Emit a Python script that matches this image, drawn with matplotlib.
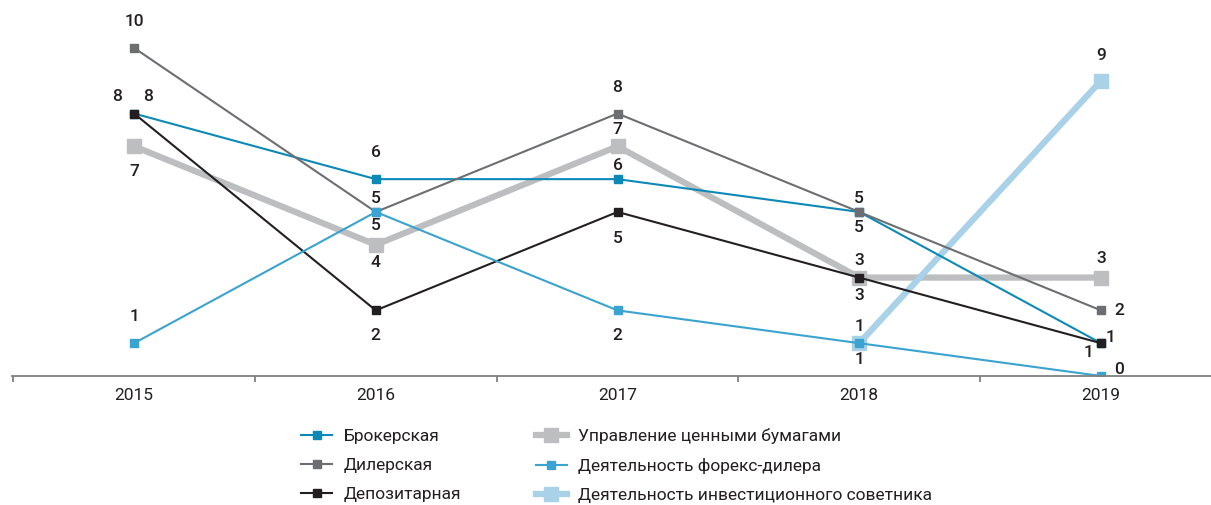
import numpy as np
import matplotlib.pyplot as plt

plt.rcParams['font.family'] = ['Roboto', 'DejaVu Sans']

years = ['2015', '2016', '2017', '2018', '2019']

broker = [8, 6, 6, 5, 1]
dealer = [10, 5, 8, 5, 2]
depository = [8, 2, 5, 3, 1]
securities_mgmt = [7, 4, 7, 3, 3]
forex = [1, 5, 2, 1, 0]
advisor = [np.nan, np.nan, np.nan, 1, 9]

x = np.arange(len(years))

fig = plt.figure(figsize=(12.11, 5.05), dpi=100)
ax = fig.add_axes([12 / 1211, 129 / 505, 1 - 12 / 1211, 1 - 129 / 505])

# (name, values, colour, linewidth, markersize, label offsets in points)
series = [
    ('Управление ценными бумагами', securities_mgmt, '#bcbec0', 4.5, 10,
     [(0, -18), (0, -13), (0, 12), (0, 12), (0, 14)]),
    ('Деятельность инвестиционного советника', advisor, '#a9d1e8', 4.5, 10,
     [None, None, None, (0, 12), (0, 18)]),
    ('Брокерская', broker, '#0d89b8', 1.5, 6,
     [(-12, 12), (0, 19), (0, 10), (0, 10), (7, 4)]),
    ('Дилерская', dealer, '#6d6e71', 1.5, 6,
     [(0, 19), (0, 10), (0, 19), (0, -11), (13, 0)]),
    ('Депозитарная', depository, '#231f20', 1.5, 6,
     [(10, 12), (0, -18), (0, -19), (0, -13), (-9, -7)]),
    ('Деятельность форекс-дилера', forex, '#3aa3d0', 1.5, 6,
     [(0, 19), (0, -10), (0, -18), (0, -12), (13, 5)]),
]

handles = {}
for name, vals, col, lw, ms, offs in series:
    ln, = ax.plot(x, vals, color=col, lw=lw, marker='s', ms=ms,
                  mec=col, mfc=col, label=name, solid_joinstyle='miter')
    handles[name] = ln
    for xi, v, off in zip(x, vals, offs):
        if off is None or np.isnan(v):
            continue
        ax.annotate(str(int(v)), (xi, v), xytext=off, textcoords='offset points',
                    ha='center', va='center', fontsize=12.5, color='#231f20',
                    fontweight='medium')

for s in ['top', 'right', 'left']:
    ax.spines[s].set_visible(False)
ax.spines['bottom'].set_color('#808080')
ax.spines['bottom'].set_linewidth(1.3)
ax.set_yticks([])
ax.set_xticks(x)
ax.set_xticklabels(years, fontsize=12.5, color='#231f20')
ax.tick_params(axis='x', which='major', length=0, pad=9)
ax.set_xticks(np.arange(-0.5, 4.0, 1.0), minor=True)
ax.tick_params(axis='x', which='minor', length=4, color='#808080', width=1.3)
ax.set_xlim(-0.505, 4.455)
ax.set_ylim(0, 11.46)

order = ['Брокерская', 'Дилерская', 'Депозитарная',
         'Управление ценными бумагами', 'Деятельность форекс-дилера',
         'Деятельность инвестиционного советника']
fig.legend([handles[n] for n in order], order, loc='upper left',
           bbox_to_anchor=(294 / 1211, 1 - 421 / 505), ncol=2, frameon=False,
           fontsize=12.5, handlelength=1.8, handletextpad=0.65,
           columnspacing=4.3, labelspacing=0.8, borderaxespad=0,
           labelcolor='#231f20')

fig.savefig('out.png', dpi=100)
